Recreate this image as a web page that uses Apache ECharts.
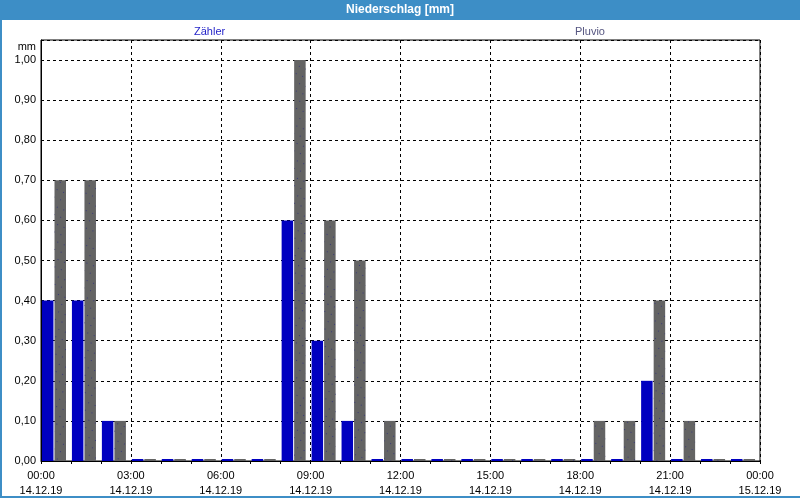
<!DOCTYPE html>
<html>
<head>
<meta charset="utf-8">
<script src="https://cdn.jsdelivr.net/npm/echarts@6/dist/echarts.min.js"></script>
<style>html,body{margin:0;padding:0;background:#fff}#c{width:800px;height:500px}</style>
</head>
<body>
<div id="c"></div>
<script>
const titleText = 'Niederschlag [mm]';
const unitText = 'mm';
const seriesNames = ['Zähler', 'Pluvio'];
const hours = ['00','01','02','03','04','05','06','07','08','09','10','11','12','13','14','15','16','17','18','19','20','21','22','23'];
const zaehler = [0.4,0.4,0.1,0,0,0,0,0,0.6,0.3,0.1,0,0,0,0,0,0,0,0,0,0.2,0,0,0];
const pluvio  = [0.7,0.7,0.1,0,0,0,0,0,1.0,0.6,0.5,0.1,0,0,0,0,0,0,0.1,0.1,0.4,0.1,0,0];
const xTickTimes = ['00:00','03:00','06:00','09:00','12:00','15:00','18:00','21:00','00:00'];
const xTickDates = ['14.12.19','14.12.19','14.12.19','14.12.19','14.12.19','14.12.19','14.12.19','14.12.19','15.12.19'];

const FONT = 'Liberation Sans';
const chart = echarts.init(document.getElementById('c'), null, {renderer: 'canvas'});

const yFmt = v => {
  const r = Math.round(v * 10) / 10;
  if (Math.abs(r - v) > 1e-6) return '';
  return r.toFixed(2).replace('.', ',');
};

chart.setOption({
  animation: false,
  backgroundColor: '#ffffff',
  textStyle: {fontFamily: FONT},
  graphic: [
    {type: 'rect', shape: {x: 0, y: 0, width: 800, height: 20}, style: {fill: '#3d8ec6'}, z: 0},
    {type: 'rect', shape: {x: 0, y: 0, width: 2, height: 498}, style: {fill: '#3d8ec6'}, z: 0},
    {type: 'rect', shape: {x: 0, y: 496, width: 800, height: 2}, style: {fill: '#3d8ec6'}, z: 0},
    {type: 'text', x: 400, y: 10, style: {text: titleText, fill: '#ffffff', font: 'bold 12px "' + FONT + '"', align: 'center', verticalAlign: 'middle'}, z: 10},
    {type: 'text', x: 36, y: 47, style: {text: unitText, fill: '#000000', font: '11px "' + FONT + '"', align: 'right', verticalAlign: 'middle'}, z: 10}
  ],
  legend: [
    {data: [seriesNames[0]], left: 189, top: 25, padding: 0, itemWidth: 0, itemHeight: 14, itemGap: 0, icon: 'none',
     textStyle: {color: '#2424c8', fontSize: 11, fontFamily: FONT}},
    {data: [seriesNames[1]], left: 570, top: 25, padding: 0, itemWidth: 0, itemHeight: 14, itemGap: 0, icon: 'none',
     textStyle: {color: '#555580', fontSize: 11, fontFamily: FONT}}
  ],
  grid: [
    {left: 41, right: 40, top: 40, bottom: 39, show: true, borderColor: '#000', borderWidth: 1, backgroundColor: 'transparent'},
    {left: 39, right: 42, top: 40, bottom: 39, show: false}
  ],
  xAxis: [
    {type: 'value', gridIndex: 0, min: 0, max: 24, interval: 3,
     axisLine: {show: true, lineStyle: {color: '#000', width: 1}},
     axisTick: {show: true, length: 3, lineStyle: {color: '#000'}},
     minorTick: {show: true, splitNumber: 3, length: 3, lineStyle: {color: '#000'}},
     minorSplitLine: {show: false},
     splitLine: {show: true, lineStyle: {color: '#000', type: [3, 3], width: 1}},
     axisLabel: {show: true, color: '#000', fontSize: 11, fontFamily: FONT, lineHeight: 15, margin: 7,
       formatter: v => { const i = Math.round(v / 3); return xTickTimes[i] + '\n' + xTickDates[i]; }}
    },
    {type: 'category', gridIndex: 1, data: hours, boundaryGap: true,
     axisLine: {show: false}, axisTick: {show: false}, axisLabel: {show: false}, splitLine: {show: false}}
  ],
  yAxis: [
    {type: 'value', gridIndex: 0, min: 0, max: 1.05, interval: 0.1,
     axisLine: {show: true, lineStyle: {color: '#000', width: 1}},
     axisTick: {show: false},
     splitLine: {show: true, lineStyle: {color: '#000', type: [3, 3], width: 1}},
     axisLabel: {color: '#000', fontSize: 11, fontFamily: FONT, margin: 5, formatter: yFmt, showMaxLabel: false}
    },
    {type: 'value', gridIndex: 1, min: 0, max: 1.05, interval: 0.1,
     axisLine: {show: false}, axisTick: {show: false}, axisLabel: {show: false}, splitLine: {show: false}}
  ],
  series: [
    {name: seriesNames[0], type: 'bar', xAxisIndex: 1, yAxisIndex: 1, data: zaehler,
     barWidth: 11.5, barGap: '9%', barMinHeight: 2, itemStyle: {color: '#0000c0'}, z: 5},
    {name: seriesNames[1], type: 'bar', xAxisIndex: 1, yAxisIndex: 1, data: pluvio,
     barWidth: 11.5, barGap: '9%', barMinHeight: 2,
     itemStyle: {color: '#646464', decal: {symbol: 'rect', symbolSize: 1, color: '#3a3a78', dashArrayX: [1, 6], dashArrayY: [1, 7], rotation: 0.4}}, z: 5}
  ]
});
</script>
</body>
</html>
